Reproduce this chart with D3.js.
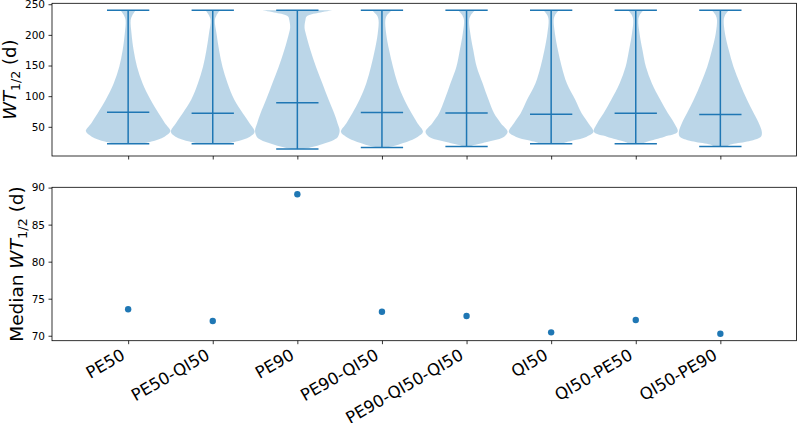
<!DOCTYPE html>
<html><head><meta charset="utf-8">
<script src="https://cdn.jsdelivr.net/npm/d3@7"></script>
<style>body{margin:0;background:#fff}svg{display:block}text{font-family:"DejaVu Sans",sans-serif}</style>
</head><body>
<svg id="c" width="797" height="423"></svg>
<script>
// ---- data ----
const categories = ["PE50","PE50-QI50","PE90","PE90-QI50","PE90-QI50-QI50","QI50","QI50-PE50","QI50-PE90"];
const medians = [73.57, 71.99, 89.1, 73.24, 72.66, 70.46, 72.12, 70.27];
const minima  = [22.4, 22.4, 13.7, 16.4, 18.0, 22.4, 22.4, 18.0];
const maxima  = [240.2, 240.2, 240.2, 240.2, 240.2, 240.2, 240.2, 240.2];
// violin outlines: [value, relative half-width]
const shapePE50 = [[240.2,0.18],[232,0.1],[224,0.06],[202,0.08],[175,0.13],[148,0.21],[121,0.34],[94,0.53],[72,0.72],[56,0.87],[43,1.0],[34,0.86],[26,0.55],[22.4,0.3]];
const shapePE50QI50 = [[240.2,0.17],[232,0.09],[224,0.05],[202,0.09],[175,0.15],[148,0.23],[121,0.35],[94,0.51],[72,0.71],[56,0.87],[42,0.99],[34,0.88],[26,0.55],[22.4,0.3]];
const shapePE90 = [[240.2,0.83],[236,0.5],[230,0.22],[224,0.19],[212,0.17],[202,0.2],[175,0.31],[148,0.44],[121,0.59],[94,0.74],[72,0.87],[56,0.95],[44,1.0],[34,0.96],[29,0.87],[22,0.6],[17,0.35],[13.7,0.15]];
const shapePE90QI50 = [[240.2,0.24],[232,0.12],[224,0.08],[202,0.1],[175,0.17],[148,0.26],[121,0.37],[94,0.53],[72,0.7],[56,0.84],[42,0.97],[34,0.85],[27.5,0.67],[19,0.3],[16.4,0.12]];
const shapePE90QI50QI50 = [[240.2,0.2],[232,0.1],[224,0.06],[202,0.09],[175,0.16],[148,0.24],[121,0.38],[94,0.52],[72,0.65],[56,0.81],[42,0.97],[34,0.89],[26,0.53],[19.5,0.14],[18,0.1]];
const shapeQI50 = [[240.2,0.18],[232,0.09],[224,0.06],[202,0.09],[175,0.16],[148,0.25],[121,0.37],[94,0.57],[72,0.72],[56,0.88],[42,1.0],[34,0.84],[26,0.41],[22.4,0.25]];
const shapeQI50PE50 = [[240.2,0.18],[232,0.09],[224,0.06],[202,0.09],[175,0.16],[148,0.24],[121,0.38],[94,0.58],[72,0.76],[56,0.91],[42,0.99],[34,0.68],[26,0.28],[22.4,0.15]];
const shapeQI50PE90 = [[240.2,0.2],[232,0.11],[224,0.08],[202,0.11],[175,0.2],[148,0.31],[121,0.46],[94,0.63],[72,0.79],[56,0.91],[42,0.98],[34,0.96],[26,0.63],[21,0.24],[18,0.15]];
const shapes = [shapePE50, shapePE50QI50, shapePE90, shapePE90QI50, shapePE90QI50QI50, shapeQI50, shapeQI50PE50, shapeQI50PE90];
const topTicks = [50,100,150,200,250];
const bottomTicks = [70,75,80,85,90];

// ---- layout ----
const C = "#1f77b4";
const svg = d3.select("#c");
const L = 52, R = 796.5;
const top1 = 3.3, bot1 = 156, top2 = 187.3, bot2 = 340.7;
const x = d3.scaleLinear().domain([0.1, 8.9]).range([L, R]);
const yT = d3.scaleLinear().domain([2.4, 251.5]).range([bot1, top1]);
const yB = d3.scaleLinear().domain([69.33, 90.04]).range([bot2, top2]);
const pos = categories.map((d,i)=>i+1);

// violins
const g1 = svg.append("g");
shapes.forEach((s,i)=>{
  const p = pos[i];
  const area = d3.area()
    .y(d=>yT(d[0]))
    .x0(d=>x(p - 0.5*d[1]))
    .x1(d=>x(p + 0.5*d[1]))
    .curve(d3.curveCatmullRom.alpha(0.5));
  g1.append("path").attr("d", area(s)).attr("fill", C).attr("fill-opacity", 0.3);
});
pos.forEach((p,i)=>{
  g1.append("line").attr("x1",x(p)).attr("x2",x(p)).attr("y1",yT(minima[i])).attr("y2",yT(maxima[i]))
    .attr("stroke",C).attr("stroke-width",1.5);
  [minima[i], maxima[i], medians[i]].forEach(v=>{
    g1.append("line").attr("x1",x(p-0.25)).attr("x2",x(p+0.25)).attr("y1",yT(v)).attr("y2",yT(v))
      .attr("stroke",C).attr("stroke-width",1.5);
  });
});

// scatter
svg.append("g").selectAll("circle").data(medians).join("circle")
  .attr("cx",(d,i)=>x(pos[i])).attr("cy",d=>yB(d)).attr("r",3.2).attr("fill",C);

// axes
function frame(t,b){
  svg.append("rect").attr("x",L).attr("y",t).attr("width",R-L).attr("height",b-t)
    .attr("fill","none").attr("stroke","#000").attr("stroke-width",0.8);
}
frame(top1,bot1); frame(top2,bot2);

function yAxis(scale, ticks){
  const g = svg.append("g").attr("transform",`translate(${L},0)`)
    .call(d3.axisLeft(scale).tickValues(ticks).tickSize(3.5).tickPadding(3.5).tickFormat(d3.format("d")));
  g.select(".domain").remove();
  g.selectAll("line").attr("stroke","#000").attr("stroke-width",0.8);
  g.selectAll("text").attr("font-size","10.5px").attr("font-family","DejaVu Sans").attr("fill","#000");
}
yAxis(yT, topTicks); yAxis(yB, bottomTicks);

function xAxis(yy, labels){
  const g = svg.append("g").attr("transform",`translate(0,${yy})`)
    .call(d3.axisBottom(x).tickValues(pos).tickSize(3.5).tickFormat(""));
  g.select(".domain").remove();
  g.selectAll("line").attr("stroke","#000").attr("stroke-width",0.8);
  g.selectAll("text").remove();
  if(labels){
    g.selectAll("text.lab").data(pos).join("text").attr("class","lab")
      .attr("text-anchor","end").attr("font-size","16.5px").attr("fill","#000")
      .attr("transform",d=>`translate(${x(d)-2},${17.5}) rotate(-30)`)
      .text((d,i)=>categories[i]);
  }
}
xAxis(bot1,false); xAxis(bot2,true);

// y labels
function ylab(cx, cy, prefix, fs){
  const t = svg.append("text").attr("transform",`translate(${cx},${cy}) rotate(-90)`)
    .attr("text-anchor","middle").attr("font-size",fs+"px").attr("fill","#000");
  if(prefix) t.append("tspan").text(prefix);
  t.append("tspan").attr("font-style","italic").text("WT");
  t.append("tspan").attr("font-size",(fs*0.7)+"px").attr("dy",fs*0.22).text("1/2");
  t.append("tspan").attr("dy",-fs*0.22).text(" (d)");
}
ylab(16, (top1+bot1)/2, null, 18);
ylab(23, (top2+bot2)/2, "Median ", 18.5);
</script>
</body></html>
